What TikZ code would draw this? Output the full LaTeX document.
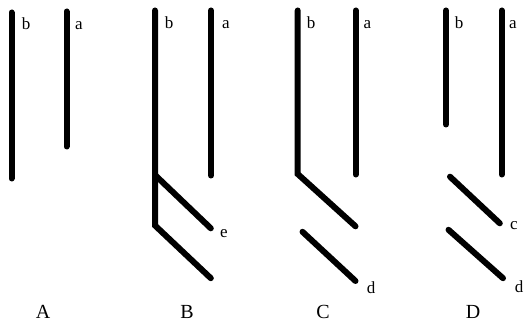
\documentclass[tikz,border=0pt]{standalone}
\usepackage{fontspec}
\setmainfont{Liberation Serif}
\begin{document}
\begin{tikzpicture}[
  x=1pt,y=-1pt,
  strand/.style={line width=6pt,line cap=round,draw=black},
  tag/.style={font=\fontsize{17}{19}\selectfont,anchor=base,inner sep=0pt},
  panel/.style={font=\fontsize{20}{23}\selectfont,anchor=base,inner sep=0pt}
]
\useasboundingbox (0,0) rectangle (524,323);

% panel A
\draw[strand] (11.5,12.5) -- (11.5,178.5);
\draw[strand] (66.5,11.5) -- (66.5,146.5);
\node[tag] (Ab) at (26,29.5) {b};
\node[tag] (Aa) at (79,30) {a};
\node[panel] (A) at (43,318) {A};

% panel B
\coordinate (Bfork) at (155,175);
\coordinate (Bcorner) at (155,225.5);
\draw[strand] (155,10.5) -- (Bcorner) -- (210.8,278.2);
\draw[strand] (Bfork) -- (210.8,228.3);
\draw[strand] (211,10.5) -- (211,175.5);
\node[tag] (Bb) at (169,29) {b};
\node[tag] (Ba) at (226,29) {a};
\node[tag] (Be) at (224,237) {e};
\node[panel] (B) at (187,318) {B};

% panel C
\coordinate (Ccorner) at (297.7,174);
\draw[strand] (297.7,10.5) -- (Ccorner) -- (355.5,226.3);
\draw[strand] (302.5,231.8) -- (355.5,281);
\draw[strand] (355.7,10.5) -- (355.7,174.5);
\node[tag] (Cb) at (311,29) {b};
\node[tag] (Ca) at (367.5,29) {a};
\node[tag] (Cd) at (371,293) {d};
\node[panel] (C) at (323,318) {C};

% panel D
\draw[strand] (446,10.5) -- (446,124.5);
\draw[strand] (501.7,10.5) -- (501.7,174.5);
\draw[strand] (450,176.7) -- (499.8,223.3);
\draw[strand] (448.5,229.8) -- (503,278.2);
\node[tag] (Db) at (459,29) {b};
\node[tag] (Da) at (513,29) {a};
\node[tag] (Dc) at (514,229) {c};
\node[tag] (Dd) at (519,292) {d};
\node[panel] (D) at (473,318) {D};

\end{tikzpicture}
\end{document}
